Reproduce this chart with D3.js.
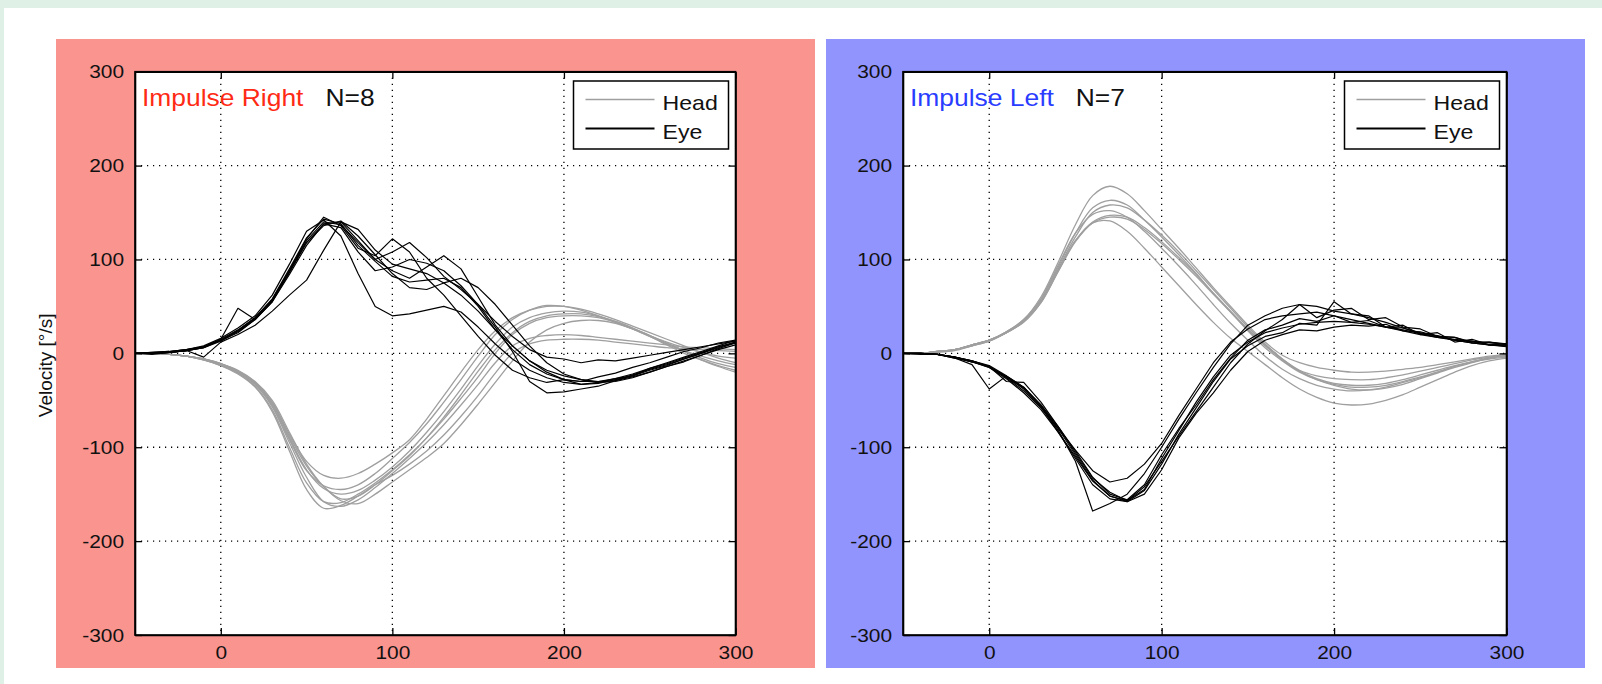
<!DOCTYPE html>
<html>
<head>
<meta charset="utf-8">
<script src="https://cdn.jsdelivr.net/npm/d3@7"></script>
<style>
  body { margin: 0; background: #fff; }
  svg { display: block; font-family: "Liberation Sans", Arial, sans-serif; }
</style>
</head>
<body>
<svg id="chart" width="1602" height="684"></svg>
<script>
// sample times (ms), one value per 10 ms
const timeMs = [-50,-40,-30,-20,-10,0,10,20,30,40,50,60,70,80,90,100,110,120,130,140,150,160,170,180,190,200,210,220,230,240,250,260,270,280,290,300];

// Impulse Right: head velocity traces (deg/s)
const rightHead = [
  [0,0,-1,-3,-6,-11,-19,-31,-52,-86,-115,-130,-133,-128,-118,-106,-92,-70,-45,-20,4,24,38,46,50,50,47,42,36,29,22,15,8,1,-5,-10],
  [0,0,-1,-3,-7,-12,-20,-33,-56,-92,-125,-141,-145,-140,-128,-112,-95,-75,-52,-28,-3,20,36,46,51,50,46,40,33,26,19,12,6,1,-3,-5],
  [0,0,-1,-3,-6,-12,-20,-32,-54,-90,-124,-144,-150,-146,-135,-121,-104,-84,-62,-38,-13,10,28,38,43,45,44,40,34,27,19,11,3,-5,-11,-15],
  [0,0,-1,-3,-6,-11,-19,-31,-53,-88,-120,-142,-155,-152,-140,-125,-109,-90,-68,-44,-19,4,22,34,40,42,42,39,34,27,19,10,2,-7,-14,-20],
  [0,0,-1,-3,-7,-13,-21,-35,-60,-100,-138,-158,-159,-150,-138,-124,-108,-90,-70,-48,-25,0,20,32,38,40,40,38,33,26,18,10,3,-3,-8,-12],
  [0,0,-1,-3,-6,-12,-20,-33,-57,-95,-132,-158,-163,-156,-143,-128,-112,-95,-76,-55,-33,-10,8,16,19,20,19,17,15,13,11,9,7,6,5,4],
  [0,0,-1,-3,-7,-13,-22,-36,-62,-104,-145,-165,-162,-152,-140,-130,-118,-104,-87,-67,-45,-21,0,10,14,15,15,14,12,10,8,6,5,4,3,2],
  [0,0,-1,-3,-6,-11,-18,-30,-50,-84,-118,-142,-157,-160,-150,-137,-124,-111,-96,-76,-54,-31,-8,12,25,32,35,35,32,26,18,9,0,-7,-13,-18]
];

// Impulse Right: eye velocity traces (deg/s)
const rightEye = [
  [0,1,2,4,7,14,24,37,57,88,122,145,136,112,104,122,108,80,62,40,18,-2,-18,-26,-31,-28,-30,-25,-21,-15,-10,-4,2,6,11,14],
  [0,-1,1,3,6,15,48,36,55,84,115,138,140,120,100,88,80,92,104,90,60,30,8,-8,-18,-24,-28,-31,-27,-24,-18,-13,-6,0,7,12],
  [0,0,1,3,-4,12,20,30,45,62,78,110,140,132,110,95,90,85,75,62,45,25,8,-8,-20,-28,-33,-31,-30,-26,-20,-14,-9,-2,4,9],
  [0,1,2,4,8,16,27,40,62,95,130,142,125,85,50,40,42,46,50,44,28,10,-6,-18,-26,-31,-33,-32,-28,-24,-16,-11,-5,1,7,11],
  [0,0,1,3,6,13,23,36,55,86,118,138,134,108,88,92,100,96,88,72,52,28,2,-30,-42,-41,-38,-35,-29,-23,-17,-12,-6,0,6,12],
  [0,0,1,3,6,14,24,38,58,90,123,143,138,115,98,82,76,78,80,70,50,25,4,-12,-22,-28,-30,-30,-27,-22,-16,-10,-4,2,8,14],
  [0,0,1,3,7,15,25,38,57,88,120,140,137,118,100,108,118,102,82,68,52,34,18,4,-4,-6,-10,-7,-8,-5,-2,1,4,7,10,13],
  [0,0,2,4,7,14,22,36,56,87,118,136,141,125,105,85,70,68,75,80,70,52,30,8,-10,-22,-28,-30,-29,-25,-20,-14,-8,-2,5,11]
];

// Impulse Left: head velocity traces (deg/s)
const leftHead = [
  [0,0,2,4,9,14,23,36,60,97,137,168,178,170,152,132,112,91,70,50,30,12,-2,-10,-15,-18,-20,-20,-19,-17,-15,-12,-9,-6,-3,-1],
  [0,0,2,4,9,14,23,35,57,92,128,155,163,158,142,124,105,85,64,44,24,6,-8,-20,-28,-33,-36,-36,-34,-30,-25,-20,-14,-9,-5,-2],
  [0,0,2,4,8,14,22,34,55,90,124,150,158,155,142,126,108,88,68,48,28,10,-6,-19,-28,-34,-38,-39,-37,-33,-27,-21,-15,-10,-5,-2],
  [0,0,2,4,9,14,23,36,58,94,128,148,152,145,130,112,93,73,52,32,14,-3,-17,-27,-34,-38,-40,-39,-36,-31,-26,-20,-14,-9,-5,-3],
  [0,0,1,3,8,13,22,33,54,88,120,140,147,145,134,119,102,84,64,45,26,9,-6,-18,-24,-27,-28,-28,-26,-23,-19,-15,-11,-7,-4,-1],
  [0,0,2,4,9,14,22,34,55,88,120,139,141,130,112,92,72,52,33,16,2,-12,-26,-38,-47,-53,-55,-54,-50,-44,-36,-28,-20,-13,-8,-5],
  [0,0,2,4,8,13,22,34,54,87,119,139,145,143,132,117,100,82,63,44,25,8,-7,-19,-27,-32,-34,-34,-32,-28,-23,-18,-13,-9,-6,-4]
];

// Impulse Left: eye velocity traces (deg/s)
const leftEye = [
  [0,0,-1,-5,-12,-38,-24,-36,-55,-78,-104,-132,-150,-156,-140,-108,-80,-55,-28,-5,14,25,30,37,34,40,33,35,28,27,21,19,14,13,9,8],
  [0,0,-1,-4,-8,-13,-24,-36,-56,-82,-115,-168,-160,-150,-128,-100,-70,-42,-15,10,30,40,48,52,50,45,42,38,33,27,22,18,14,11,9,7],
  [0,0,-1,-4,-8,-14,-26,-40,-58,-80,-103,-125,-137,-133,-118,-96,-66,-38,-10,12,26,36,40,42,44,40,36,32,28,25,21,17,14,11,9,8],
  [0,-1,-1,-4,-9,-15,-27,-42,-60,-84,-110,-136,-152,-157,-142,-115,-88,-62,-36,-10,10,24,36,52,38,46,48,36,38,28,26,18,17,11,12,9],
  [0,0,-1,-5,-9,-15,-25,-38,-57,-84,-112,-140,-155,-158,-146,-118,-86,-58,-30,-6,8,18,22,32,30,55,42,40,28,30,20,22,12,15,9,10],
  [0,0,-1,-4,-8,-14,-25,-37,-55,-80,-108,-135,-152,-158,-150,-124,-90,-64,-42,-18,2,14,20,25,24,28,30,29,31,24,23,18,17,12,12,10],
  [0,0,-1,-4,-9,-14,-30,-31,-52,-78,-106,-133,-148,-157,-145,-112,-82,-52,-25,-2,12,22,27,31,33,34,33,31,28,24,20,17,15,13,11,10]
];

const xTicks = [0, 100, 200, 300];
const yTicks = [-300, -200, -100, 0, 100, 200, 300];
const legendLabels = ["Head", "Eye"];
const yLabel = "Velocity [\u00b0/s]";

const headColor = "#9f9f9f";
const eyeColor = "#000";
const textStretch = 1.1;

const panels = [
  { bg: "#f9948f", frame: [56, 39, 759, 629], plot: {left: 135, top: 71.7, right: 735.5, bottom: 635},
    title: "Impulse Right", titleColor: "#ff2a14", n: "N=8", head: rightHead, eye: rightEye, showYLabel: true },
  { bg: "#9194fd", frame: [826, 39, 759, 629], plot: {left: 903, top: 71.7, right: 1506.5, bottom: 635},
    title: "Impulse Left", titleColor: "#2a3cff", n: "N=7", head: leftHead, eye: leftEye, showYLabel: false }
];

const svg = d3.select("#chart");

// page background
svg.append("rect").attr("width", 1602).attr("height", 684).attr("fill", "#fff");
svg.append("rect").attr("width", 1602).attr("height", 8).attr("fill", "#dff1e7");
svg.append("rect").attr("width", 4).attr("height", 684).attr("fill", "#dff1e7");

// widen text a little, the source figure was stretched sideways
function stretch(sel) {
  sel.each(function () {
    const w = this.getComputedTextLength();
    this.setAttribute("textLength", w * textStretch);
    this.setAttribute("lengthAdjust", "spacingAndGlyphs");
  });
}

panels.forEach(function (p, k) {
  let g = svg.append("g").attr("class", "panel-" + k);
  let pl = p.plot;

  g.append("rect")
    .attr("x", p.frame[0]).attr("y", p.frame[1])
    .attr("width", p.frame[2]).attr("height", p.frame[3])
    .attr("fill", p.bg);

  let x = d3.scaleLinear().domain([-50, 300]).range([pl.left, pl.right]);
  let y = d3.scaleLinear().domain([-300, 300]).range([pl.bottom, pl.top]);

  g.append("rect")
    .attr("x", pl.left).attr("y", pl.top)
    .attr("width", pl.right - pl.left).attr("height", pl.bottom - pl.top)
    .attr("fill", "#fff");

  // dotted grid
  let grid = g.append("g").attr("class", "grid")
    .attr("stroke", "#000").attr("stroke-width", 1.3).attr("stroke-dasharray", "1.2,4.8");
  grid.selectAll(".gx")
    .data(xTicks.filter(d => d < 300))
    .enter().append("line")
    .attr("x1", d => x(d)).attr("x2", d => x(d))
    .attr("y1", pl.top).attr("y2", pl.bottom);
  grid.selectAll(".gy")
    .data(yTicks.filter(d => Math.abs(d) < 300))
    .enter().append("line")
    .attr("x1", pl.left).attr("x2", pl.right)
    .attr("y1", d => y(d)).attr("y2", d => y(d));

  let clipId = "clip" + k;
  g.append("clipPath").attr("id", clipId)
    .append("rect")
    .attr("x", pl.left).attr("y", pl.top)
    .attr("width", pl.right - pl.left).attr("height", pl.bottom - pl.top);

  let headLine = d3.line()
    .x((d, i) => x(timeMs[i]))
    .y(d => y(d))
    .curve(d3.curveCatmullRom.alpha(0.5));

  let eyeLine = d3.line()
    .x((d, i) => x(timeMs[i]))
    .y(d => y(d));

  let traces = g.append("g").attr("clip-path", "url(#" + clipId + ")");

  traces.selectAll(".head")
    .data(p.head)
    .enter().append("path")
    .attr("class", "head")
    .attr("d", headLine)
    .attr("fill", "none")
    .attr("stroke", headColor)
    .attr("stroke-width", 1.3);

  traces.selectAll(".eye")
    .data(p.eye)
    .enter().append("path")
    .attr("class", "eye")
    .attr("d", eyeLine)
    .attr("fill", "none")
    .attr("stroke", eyeColor)
    .attr("stroke-width", 1.2)
    .attr("stroke-linejoin", "round");

  // axes, ticks inside like matlab; plain hyphen for negatives
  let fmt = d => String(d);
  let axisLeft = g.append("g")
    .attr("transform", "translate(" + pl.left + ",0)")
    .call(d3.axisLeft(y).tickValues(yTicks).tickFormat(fmt).tickSizeInner(-7).tickSizeOuter(0).tickPadding(11));
  let axisBottom = g.append("g")
    .attr("transform", "translate(0," + pl.bottom + ")")
    .call(d3.axisBottom(x).tickValues(xTicks).tickFormat(fmt).tickSizeInner(-7).tickSizeOuter(0).tickPadding(11));
  g.append("g")
    .attr("transform", "translate(" + pl.right + ",0)")
    .call(d3.axisRight(y).tickValues(yTicks).tickSizeInner(-7).tickSizeOuter(0).tickFormat(""));
  g.append("g")
    .attr("transform", "translate(0," + pl.top + ")")
    .call(d3.axisTop(x).tickValues(xTicks).tickSizeInner(-7).tickSizeOuter(0).tickFormat(""));

  g.selectAll(".domain").attr("stroke", "#000").attr("stroke-width", 1.6);
  g.selectAll(".tick line").attr("stroke", "#000").attr("stroke-width", 1.3);

  [axisLeft, axisBottom].forEach(function (ax) {
    ax.selectAll("text")
      .attr("fill", "#111")
      .style("font-size", "19px")
      .style("font-family", "'Liberation Sans', Arial, sans-serif")
      .call(stretch);
  });

  g.append("rect")
    .attr("x", pl.left).attr("y", pl.top)
    .attr("width", pl.right - pl.left).attr("height", pl.bottom - pl.top)
    .attr("fill", "none").attr("stroke", "#000").attr("stroke-width", 1.6);

  // title
  let title = g.append("text")
    .attr("x", pl.left + 7).attr("y", 105.5)
    .attr("fill", p.titleColor)
    .style("font-size", "24px")
    .text(p.title)
    .call(stretch);
  let tEnd = pl.left + 7 + (+title.attr("textLength"));
  g.append("text")
    .attr("x", tEnd + 22).attr("y", 105.5)
    .attr("fill", "#111")
    .style("font-size", "24px")
    .text(p.n)
    .call(stretch);

  // legend
  let lg = g.append("g").attr("transform", "translate(" + (pl.right - 162) + ",81)");
  lg.append("rect")
    .attr("width", 155).attr("height", 68)
    .attr("fill", "#fff").attr("stroke", "#000").attr("stroke-width", 1.5);
  let rows = lg.selectAll(".row")
    .data(legendLabels)
    .enter().append("g")
    .attr("transform", (d, i) => "translate(0," + (18.5 + i * 29) + ")");
  rows.append("line")
    .attr("x1", 12).attr("x2", 81)
    .attr("stroke", (d, i) => i === 0 ? headColor : eyeColor)
    .attr("stroke-width", (d, i) => i === 0 ? 1.5 : 2);
  rows.append("text")
    .attr("x", 89).attr("y", 10.5)
    .attr("fill", "#111")
    .style("font-size", "21px")
    .text(d => d)
    .call(stretch);

  if (p.showYLabel) {
    g.append("text")
      .attr("transform", "translate(52," + ((pl.top + pl.bottom) / 2 + 12) + ") rotate(-90)")
      .attr("text-anchor", "middle")
      .attr("fill", "#111")
      .style("font-size", "19px")
      .text(yLabel);
  }
});
</script>
</body>
</html>
